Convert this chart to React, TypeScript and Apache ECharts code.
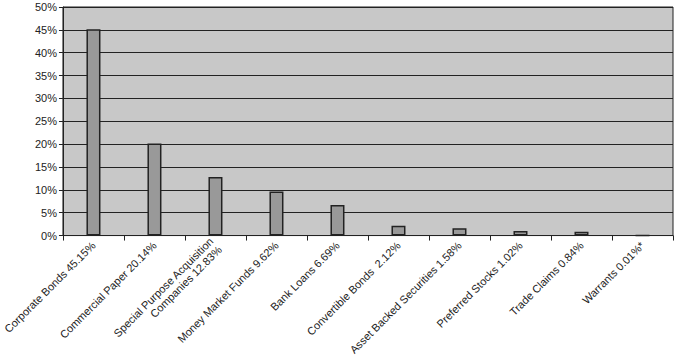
import React, { useEffect, useRef } from "react";
import * as echarts from "echarts";

const categories = [
  "Corporate Bonds 45.15%",
  "Commercial Paper 20.14%",
  "Special Purpose Acquisition\nCompanies 12.83%",
  "Money Market Funds 9.62%",
  "Bank Loans 6.69%",
  "Convertible Bonds  2.12%",
  "Asset Backed Securities 1.58%",
  "Preferred Stocks 1.02%",
  "Trade Claims 0.84%",
  "Warrants 0.01%*",
];
const values = [45.15, 20.14, 12.83, 9.62, 6.69, 2.12, 1.58, 1.02, 0.84, 0.01];

export default function App() {
  const ref = useRef<HTMLDivElement>(null);
  useEffect(() => {
    if (!ref.current) return;
    const chart = echarts.init(ref.current, undefined, { renderer: "svg" });
    chart.setOption({
      animation: false,
      textStyle: { fontFamily: "Liberation Sans, Arial, sans-serif" },
      grid: {
        left: 58,
        right: 2,
        top: 7,
        bottom: 121,
        show: true,
        backgroundColor: "#c8c8c8",
        borderColor: "#222",
        borderWidth: 1,
      },
      xAxis: {
        type: "category",
        data: categories,
        axisLine: { show: true, lineStyle: { color: "#222", width: 1 } },
        axisTick: { show: true, length: 5, lineStyle: { color: "#222" } },
        axisLabel: {
          rotate: 45,
          interval: 0,
          color: "#222",
          fontSize: 11,
          margin: 8,
          lineHeight: 12,
        },
      },
      yAxis: {
        type: "value",
        min: 0,
        max: 50,
        interval: 5,
        axisLine: { show: true, lineStyle: { color: "#222" } },
        axisTick: { show: true, length: 4, lineStyle: { color: "#222" } },
        axisLabel: {
          formatter: "{value}%",
          color: "#222",
          fontSize: 11,
          margin: 6,
        },
        splitLine: { show: true, lineStyle: { color: "#222", width: 1 } },
      },
      series: [
        {
          type: "bar",
          data: values,
          barWidth: 14,
          itemStyle: { color: "#999999", borderColor: "#222", borderWidth: 1.5 },
        },
      ],
    });
    return () => chart.dispose();
  }, []);
  return (
    <div
      ref={ref}
      style={{ position: "fixed", left: 0, top: 0, width: 675, height: 358, background: "#fff" }}
    />
  );
}
